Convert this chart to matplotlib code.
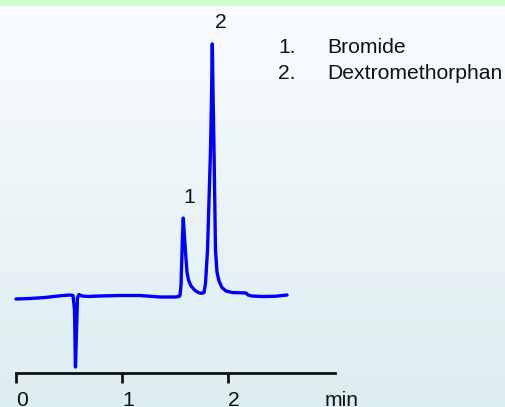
import numpy as np
import matplotlib
matplotlib.use("Agg")
import matplotlib.pyplot as plt
from matplotlib.patches import Rectangle

plt.rcParams['font.family'] = ['Liberation Sans', 'DejaVu Sans']

# Chromatogram trace (time in min, detector signal in arbitrary units)
time_min = [0.000, 0.132, 0.274, 0.415, 0.509, 0.538, 0.552, 0.561, 0.571, 0.580,
            0.594, 0.623, 0.679, 0.792, 0.981, 1.170, 1.358, 1.500, 1.538, 1.547,
            1.557, 1.564, 1.571, 1.578, 1.588, 1.599, 1.613, 1.627, 1.651, 1.689,
            1.726, 1.755, 1.774, 1.788, 1.807, 1.821, 1.835, 1.844, 1.852, 1.860,
            1.868, 1.882, 1.896, 1.915, 1.943, 1.981, 2.038, 2.113, 2.170, 2.189,
            2.226, 2.321, 2.443, 2.557]
signal = [-3.0, -2.5, -1.5, 0.2, 1.0, 0.5, -14.0, -71.0, -34.0, -2.0,
          1.5, 0.0, -0.5, 0.0, 0.5, 0.5, -1.0, -1.0, -0.5, 0.5,
          11.0, 36.0, 61.0, 78.0, 61.0, 44.0, 24.0, 16.0, 10.0, 5.5,
          3.2, 2.7, 3.5, 13.0, 46.0, 96.0, 146.0, 196.0, 252.0, 196.0,
          146.0, 46.0, 24.0, 15.0, 8.5, 5.0, 3.5, 3.2, 3.0, 1.0,
          0.0, -0.5, -0.3, 1.0]

# Peak labels
peak_ids = ["1", "2"]
peak_label_time = [1.632, 1.934]
peak_label_signal = [93, 268]

# Legend entries
legend_nums = ["1.", "2."]
legend_names = ["Bromide", "Dextromethorphan"]

xticks = [0, 1, 2]
xtick_labels = ["0", "1", "2"]
x_unit = "min"
x_unit_pos = 2.915

W, H = 505, 407
fig = plt.figure(figsize=(W / 100, H / 100), dpi=100)

# Background gradient
bg = fig.add_axes([0, 0, 1, 1], zorder=-10)
bg.set_axis_off()
top_c = np.array([250, 252, 254]) / 255
bot_c = np.array([220, 237, 240]) / 255
n = 256
fr = np.linspace(0, 1, n)[:, None]
grad = top_c[None, :] * (1 - fr) + bot_c[None, :] * fr
bg.imshow(grad[:, None, :], aspect='auto', extent=[0, 1, 0, 1], origin='upper')
bg.add_patch(Rectangle((0, 1 - 6 / H), 1, 6 / H, color='#ccffcc', lw=0))
bg.set_xlim(0, 1)
bg.set_ylim(0, 1)

# Main axes
ax = fig.add_axes([16 / W, (H - 373) / H, 319 / W, 367 / H])
ax.patch.set_alpha(0)
ax.plot(time_min, signal, color='#0000ff', lw=2.4, solid_joinstyle='round',
        solid_capstyle='round', clip_on=False)
ax.set_xlim(0, 319 / 106)
ax.set_ylim(-77, 290)
for s in ['left', 'right', 'top']:
    ax.spines[s].set_visible(False)
ax.spines['bottom'].set_linewidth(2.0)
ax.spines['bottom'].set_color('#111111')
ax.set_yticks([])
ax.set_xticks(xticks)
ax.set_xticklabels(xtick_labels, ha='left')
tick_len, tick_pad = 7.2, 6.0
ax.tick_params(axis='x', direction='out', length=tick_len, width=2.0, color='#111111',
               labelsize=15.2, pad=tick_pad, labelcolor='#111111')
for lab in ax.get_xticklabels():
    lab.set_x(lab.get_position()[0])

for pid, tx, sy in zip(peak_ids, peak_label_time, peak_label_signal):
    ax.text(tx, sy, pid, ha='center', va='baseline', fontsize=15.2, color='#111111')

# unit label at end of axis, aligned with tick labels
ax.annotate(x_unit, xy=(x_unit_pos, 0), xycoords=('data', 'axes fraction'),
            xytext=(0, -(tick_len + tick_pad)), textcoords='offset points',
            ha='left', va='top', fontsize=15.2, color='#111111', annotation_clip=False)

# Legend text
for i, (num, name) in enumerate(zip(legend_nums, legend_names)):
    yb = 53 + 26 * i
    fig.text(278 / W, 1 - yb / H, num, ha='left', va='baseline', fontsize=15.2, color='#111111')
    fig.text(327 / W, 1 - yb / H, name, ha='left', va='baseline', fontsize=15.2, color='#111111')

fig.savefig('out.png', dpi=100)
